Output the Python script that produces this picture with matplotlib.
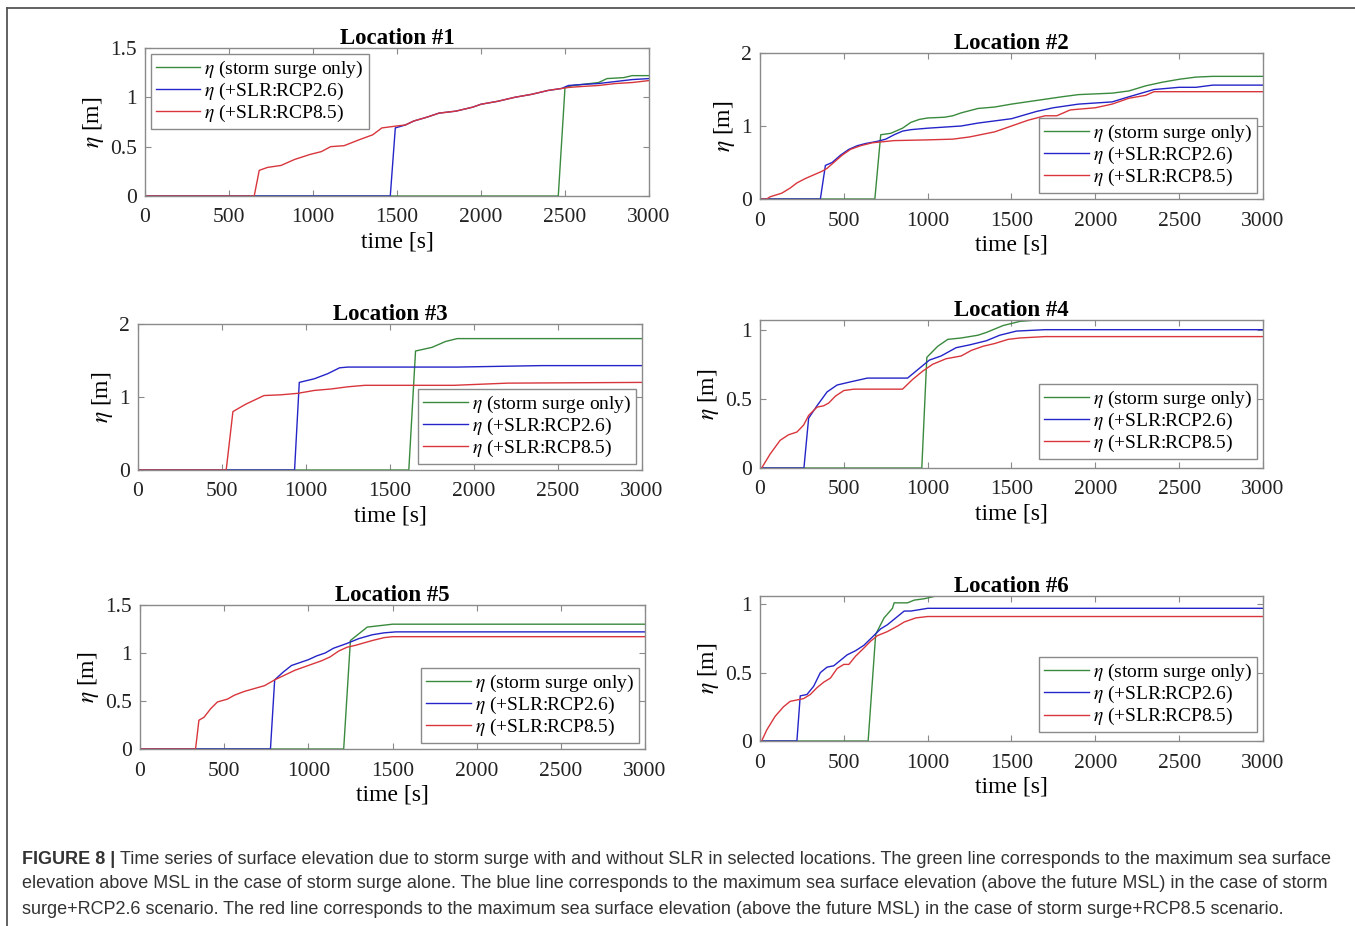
import matplotlib as mpl
import matplotlib.pyplot as plt
from matplotlib.lines import Line2D

mpl.rcParams['font.family'] = 'serif'
mpl.rcParams['font.serif'] = ['Liberation Serif', 'DejaVu Serif']
mpl.rcParams['mathtext.fontset'] = 'stix'

GREEN = '#3a8a3e'
BLUE = '#2424c8'
RED = '#d8363c'
SPINE = '#8a8a8a'

LABELS = [r'$\eta$ (storm surge only)', r'$\eta$ (+SLR:RCP2.6)', r'$\eta$ (+SLR:RCP8.5)']
X_TICKS = [0, 500, 1000, 1500, 2000, 2500, 3000]

# ---- Location #1 ----
t1_g = [0, 2460, 2500, 2550, 2650, 2700, 2750, 2850, 2900, 3000]
e1_g = [0, 0, 1.10, 1.12, 1.14, 1.15, 1.19, 1.20, 1.22, 1.22]
t1_b = [0, 1460, 1490, 1550, 1600, 1680, 1750, 1850, 1950, 2000, 2100, 2200, 2300, 2400,
        2480, 2520, 2600, 2700, 2800, 2900, 3000]
e1_b = [0, 0, 0.69, 0.72, 0.76, 0.80, 0.84, 0.86, 0.90, 0.93, 0.96, 1.00, 1.03, 1.07,
        1.09, 1.12, 1.13, 1.14, 1.16, 1.18, 1.19]
t1_r = [0, 650, 680, 730, 810, 890, 980, 1050, 1105, 1185, 1275, 1355, 1410, 1500,
        1550, 1600, 1680, 1750, 1850, 1950, 2000, 2100, 2200, 2300, 2400, 2480, 2520,
        2600, 2700, 2800, 2900, 3000]
e1_r = [0, 0, 0.26, 0.29, 0.31, 0.37, 0.42, 0.45, 0.50, 0.51, 0.57, 0.62, 0.69, 0.71,
        0.72, 0.76, 0.80, 0.84, 0.86, 0.90, 0.93, 0.96, 1.00, 1.03, 1.07, 1.09, 1.10,
        1.11, 1.12, 1.14, 1.15, 1.17]

# ---- Location #2 ----
t2_g = [0, 685, 720, 780, 850, 900, 950, 1000, 1100, 1150, 1200, 1300, 1400, 1500,
        1650, 1800, 1900, 2000, 2100, 2200, 2300, 2400, 2500, 2600, 2700, 3000]
e2_g = [0, 0, 0.88, 0.90, 0.97, 1.05, 1.09, 1.11, 1.12, 1.14, 1.18, 1.24, 1.26, 1.30,
        1.35, 1.40, 1.43, 1.44, 1.45, 1.48, 1.55, 1.60, 1.64, 1.67, 1.68, 1.68]
t2_b = [0, 360, 390, 430, 480, 530, 580, 630, 700, 750, 800, 850, 900, 1000, 1200,
        1300, 1500, 1650, 1750, 1900, 2100, 2200, 2350, 2500, 2600, 2700, 3000]
e2_b = [0, 0, 0.46, 0.50, 0.60, 0.68, 0.73, 0.76, 0.79, 0.82, 0.88, 0.93, 0.95, 0.97,
        1.00, 1.04, 1.10, 1.20, 1.25, 1.30, 1.33, 1.40, 1.50, 1.53, 1.53, 1.56, 1.56]
t2_r = [0, 40, 60, 130, 180, 220, 270, 320, 370, 400, 440, 490, 540, 600, 670, 800,
        1000, 1150, 1250, 1400, 1500, 1600, 1700, 1770, 1850, 2000, 2100, 2200, 2300,
        2350, 3000]
e2_r = [0, 0, 0.03, 0.08, 0.15, 0.22, 0.28, 0.33, 0.38, 0.42, 0.50, 0.60, 0.68, 0.73,
        0.77, 0.80, 0.81, 0.82, 0.85, 0.92, 1.00, 1.08, 1.14, 1.14, 1.22, 1.25, 1.30,
        1.38, 1.42, 1.47, 1.47]

# ---- Location #3 ----
t3_g = [0, 1612, 1652, 1750, 1830, 1900, 3000]
e3_g = [0, 0, 1.63, 1.68, 1.76, 1.80, 1.80]
t3_b = [0, 932, 960, 1050, 1130, 1200, 1250, 1900, 2400, 3000]
e3_b = [0, 0, 1.20, 1.25, 1.32, 1.40, 1.41, 1.41, 1.43, 1.43]
t3_r = [0, 525, 565, 640, 750, 850, 950, 1050, 1150, 1250, 1350, 1880, 2200, 3000]
e3_r = [0, 0, 0.80, 0.90, 1.02, 1.03, 1.05, 1.09, 1.11, 1.14, 1.16, 1.16, 1.19, 1.20]

# ---- Location #4 ----
t4_g = [0, 965, 995, 1060, 1120, 1200, 1300, 1350, 1450, 1550, 1650, 3000]
e4_g = [0, 0, 0.80, 0.88, 0.93, 0.94, 0.96, 0.98, 1.03, 1.06, 1.07, 1.07]
t4_b = [0, 262, 290, 340, 400, 460, 530, 640, 880, 950, 1010, 1080, 1170, 1250, 1350,
        1430, 1530, 1700, 3000]
e4_b = [0, 0, 0.36, 0.45, 0.55, 0.60, 0.62, 0.65, 0.65, 0.72, 0.78, 0.81, 0.87, 0.89,
        0.92, 0.96, 0.99, 1.00, 1.00]
t4_r = [0, 10, 60, 120, 170, 220, 260, 290, 340, 380, 410, 450, 500, 560, 850, 910,
        970, 1030, 1110, 1200, 1260, 1330, 1400, 1480, 1550, 1700, 3000]
e4_r = [0, 0, 0.10, 0.20, 0.24, 0.26, 0.31, 0.38, 0.44, 0.45, 0.47, 0.52, 0.56, 0.57,
        0.57, 0.64, 0.70, 0.75, 0.79, 0.81, 0.85, 0.88, 0.90, 0.93, 0.94, 0.95, 0.95]

# ---- Location #5 ----
t5_g = [0, 1210, 1250, 1300, 1350, 1400, 1500, 3000]
e5_g = [0, 0, 1.13, 1.20, 1.27, 1.28, 1.30, 1.30]
t5_b = [0, 775, 800, 850, 900, 950, 1000, 1050, 1100, 1150, 1230, 1300, 1380, 1450,
        1520, 3000]
e5_b = [0, 0, 0.72, 0.80, 0.87, 0.90, 0.93, 0.97, 1.00, 1.05, 1.10, 1.15, 1.19, 1.21,
        1.22, 1.22]
t5_r = [0, 330, 350, 380, 420, 460, 520, 560, 620, 680, 740, 800, 860, 920, 1000,
        1080, 1130, 1180, 1230, 1280, 1320, 1380, 1450, 1500, 3000]
e5_r = [0, 0, 0.30, 0.33, 0.42, 0.49, 0.52, 0.56, 0.60, 0.63, 0.66, 0.72, 0.77, 0.82,
        0.87, 0.92, 0.96, 1.02, 1.06, 1.08, 1.10, 1.13, 1.16, 1.17, 1.17]

# ---- Location #6 ----
t6_g = [0, 645, 690, 740, 790, 800, 880, 920, 980, 1050, 3000]
e6_g = [0, 0, 0.78, 0.90, 0.97, 1.01, 1.01, 1.03, 1.04, 1.06, 1.06]
t6_b = [0, 220, 240, 280, 320, 360, 400, 440, 490, 520, 570, 620, 670, 720, 760, 800,
        860, 900, 950, 1000, 3000]
e6_b = [0, 0, 0.33, 0.34, 0.40, 0.50, 0.54, 0.55, 0.60, 0.63, 0.66, 0.70, 0.76, 0.82,
        0.85, 0.89, 0.95, 0.95, 0.96, 0.97, 0.97]
t6_r = [0, 10, 40, 90, 140, 180, 220, 260, 300, 340, 380, 420, 460, 500, 530, 570,
        620, 660, 700, 760, 820, 860, 930, 1000, 3000]
e6_r = [0, 0, 0.08, 0.18, 0.25, 0.29, 0.30, 0.31, 0.34, 0.39, 0.43, 0.46, 0.53, 0.56,
        0.56, 0.62, 0.68, 0.73, 0.77, 0.80, 0.84, 0.87, 0.90, 0.91, 0.91]

panels = [
    dict(title='Location #1', g=(t1_g, e1_g), b=(t1_b, e1_b), r=(t1_r, e1_r),
         ylim=1.5, yticks=[0, 0.5, 1, 1.5], yticklabels=['0', '0.5', '1', '1.5']),
    dict(title='Location #2', g=(t2_g, e2_g), b=(t2_b, e2_b), r=(t2_r, e2_r),
         ylim=2.0, yticks=[0, 1, 2], yticklabels=['0', '1', '2']),
    dict(title='Location #3', g=(t3_g, e3_g), b=(t3_b, e3_b), r=(t3_r, e3_r),
         ylim=2.0, yticks=[0, 1, 2], yticklabels=['0', '1', '2']),
    dict(title='Location #4', g=(t4_g, e4_g), b=(t4_b, e4_b), r=(t4_r, e4_r),
         ylim=1.07, yticks=[0, 0.5, 1], yticklabels=['0', '0.5', '1']),
    dict(title='Location #5', g=(t5_g, e5_g), b=(t5_b, e5_b), r=(t5_r, e5_r),
         ylim=1.5, yticks=[0, 0.5, 1, 1.5], yticklabels=['0', '0.5', '1', '1.5']),
    dict(title='Location #6', g=(t6_g, e6_g), b=(t6_b, e6_b), r=(t6_r, e6_r),
         ylim=1.06, yticks=[0, 0.5, 1], yticklabels=['0', '0.5', '1']),
]

W, H = 1355, 926
# axes boxes in pixels: left, right, top, bottom
boxes = [(145, 649, 48, 196), (760, 1263, 53, 199),
         (138, 642, 324, 470), (760, 1263, 320, 468),
         (140, 645, 605, 749), (760, 1263, 596, 741)]
# legend placement (loc, anchor in axes fraction)
legend_loc = [('upper left', (0.0, 1.0)), ('lower right', (1.0, 0.0)),
              ('lower right', (1.0, 0.0)), ('lower right', (1.0, 0.02)),
              ('lower right', (1.0, 0.0)), ('lower right', (1.0, 0.02))]

fig = plt.figure(figsize=(W / 100, H / 100), dpi=100)

for p, (l, r, t, b), (loc, anchor) in zip(panels, boxes, legend_loc):
    ax = fig.add_axes([l / W, 1 - b / H, (r - l) / W, (b - t) / H])
    ax.plot(*p['g'], color=GREEN, lw=1.0, label=LABELS[0])
    ax.plot(*p['b'], color=BLUE, lw=1.0, label=LABELS[1])
    ax.plot(*p['r'], color=RED, lw=1.0, label=LABELS[2])
    ax.set_xlim(0, 3000)
    ax.set_ylim(0, p['ylim'])
    ax.set_xticks(X_TICKS)
    ax.set_xticklabels([str(x) for x in X_TICKS])
    ax.set_yticks(p['yticks'])
    ax.set_yticklabels(p['yticklabels'])
    ax.tick_params(direction='in', top=True, right=True, length=4, width=0.8,
                   color=SPINE, labelsize=15.5, labelcolor='#222222')
    ax.tick_params(axis='x', pad=9)
    ax.tick_params(axis='y', pad=6)
    for s in ax.spines.values():
        s.set_color(SPINE)
        s.set_linewidth(1.0)
    ax.set_title(p['title'], fontsize=16.5, fontweight='bold', pad=3)
    ax.set_xlabel('time [s]', fontsize=17, labelpad=3)
    ax.set_ylabel(r'$\eta$ [m]', fontsize=17, labelpad=3)
    leg = ax.legend(loc=loc, bbox_to_anchor=anchor, fontsize=14, handlelength=2.3,
                    handletextpad=0.2, labelspacing=0.05, borderpad=0.25,
                    borderaxespad=0.3, fancybox=False, framealpha=1.0)
    leg.get_frame().set_edgecolor(SPINE)
    leg.get_frame().set_linewidth(1.0)

# open frame around the figure (top and left edges)
fig.add_artist(Line2D([7 / W, 1.0], [1 - 8 / H, 1 - 8 / H], color='#555555', lw=1.3))
fig.add_artist(Line2D([7 / W, 7 / W], [0.0, 1 - 8 / H], color='#555555', lw=1.3))

# caption
cap_font = dict(family='Liberation Sans', fontsize=12.95, color='#333333', va='center')
head = fig.text(22 / W, 1 - 859 / H, 'FIGURE 8 |', fontweight='bold', **cap_font)
fig.canvas.draw()
bb = head.get_window_extent()
fig.text((bb.x1 + 5) / W, 1 - 859 / H,
         'Time series of surface elevation due to storm surge with and without SLR in '
         'selected locations. The green line corresponds to the maximum sea surface',
         **cap_font)
fig.text(22 / W, 1 - 884 / H,
         'elevation above MSL in the case of storm surge alone. The blue line corresponds '
         'to the maximum sea surface elevation (above the future MSL) in the case of storm',
         **cap_font)
fig.text(22 / W, 1 - 909 / H,
         'surge+RCP2.6 scenario. The red line corresponds to the maximum sea surface '
         'elevation (above the future MSL) in the case of storm surge+RCP8.5 scenario.',
         **cap_font)

fig.savefig('out.png', dpi=100)
